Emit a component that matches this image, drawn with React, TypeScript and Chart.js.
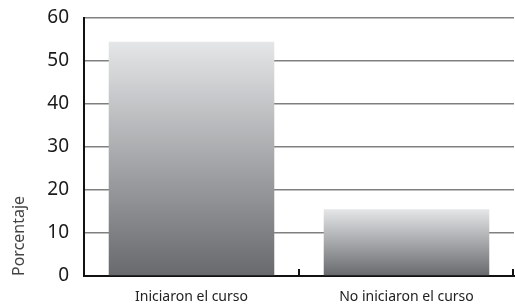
import React, { useEffect, useRef } from 'react';
import { Chart, registerables } from 'chart.js';

Chart.register(...registerables);

const categories = ['Iniciaron el curso', 'No iniciaron el curso'];
const values = [54.5, 15.5];
const yMax = 60;
const yStep = 5;
const yLabelStep = 10;
const yTitle = 'Porcentaje';

const FONT = '"Noto Sans", "Open Sans", "DejaVu Sans", sans-serif';

const xTickMarks = {
  id: 'xTickMarks',
  afterDatasetsDraw(chart: any) {
    const { ctx } = chart;
    const area = chart.chartArea;
    const n = categories.length;
    const w = (area.right - area.left) / n;
    ctx.save();
    ctx.strokeStyle = '#111';
    ctx.lineWidth = 2;
    for (let i = 1; i <= n; i++) {
      const px = Math.round(area.left + w * i) - (i === n ? 1 : 0);
      ctx.beginPath();
      ctx.moveTo(px, area.bottom);
      ctx.lineTo(px, area.bottom - 7);
      ctx.stroke();
    }
    ctx.restore();
  },
};

export default function App() {
  const ref = useRef<HTMLCanvasElement>(null);
  useEffect(() => {
    document.body.style.margin = '0';
    const canvas = ref.current!;
    const chart = new Chart(canvas, {
      type: 'bar',
      data: {
        labels: categories,
        datasets: [
          {
            data: values,
            backgroundColor: (c: any) => {
              const ch = c.chart;
              const y = ch.scales?.y;
              if (!y || c.parsed == null) return '#a0a1a4';
              const top = y.getPixelForValue(c.parsed.y);
              const bottom = y.getPixelForValue(0);
              if (!isFinite(top) || !isFinite(bottom)) return '#a0a1a4';
              const g = ch.ctx.createLinearGradient(0, top, 0, bottom);
              g.addColorStop(0, '#e5e6e8');
              g.addColorStop(1, '#68696c');
              return g;
            },
            borderWidth: 0,
            categoryPercentage: 0.77,
            barPercentage: 1,
          },
        ],
      },
      options: {
        responsive: false,
        animation: false,
        layout: { padding: { left: 0, right: 1, top: 18, bottom: 0 } },
        plugins: { legend: { display: false }, tooltip: { enabled: false } },
        scales: {
          x: {
            afterFit: (s: any) => {
              s.height = 29;
            },
            grid: { display: false },
            border: { display: true, color: '#111', width: 2 },
            ticks: { font: { family: FONT, size: 14 }, color: '#222', padding: 5 },
          },
          y: {
            min: 0,
            max: yMax,
            afterFit: (s: any) => {
              s.width = 84;
              s.paddingTop = 0;
              s.paddingBottom = 0;
            },
            ticks: {
              stepSize: yStep,
              padding: 15,
              font: { family: FONT, size: 19 },
              color: '#1a1a1a',
              callback: (v: any) => (Number(v) % yLabelStep === 0 ? String(v) : ''),
            },
            grid: {
              drawTicks: false,
              color: (c: any) => (c.tick && c.tick.value % yLabelStep === 0 ? '#808080' : '#1a1a1a'),
              lineWidth: (c: any) => (c.tick && c.tick.value % yLabelStep === 0 ? 1.5 : 1),
            },
            border: { display: true, color: '#111', width: 2 },
            title: {
              display: true,
              text: yTitle,
              align: 'start',
              color: '#444',
              font: { family: FONT, size: 16 },
              padding: { top: 10, bottom: 0 },
            },
          },
        },
      },
      plugins: [xTickMarks],
    });
    return () => chart.destroy();
  }, []);
  return (
    <div style={{ width: 515, height: 305 }}>
      <canvas ref={ref} width={515} height={305} style={{ width: 515, height: 305, display: 'block' }} />
    </div>
  );
}
